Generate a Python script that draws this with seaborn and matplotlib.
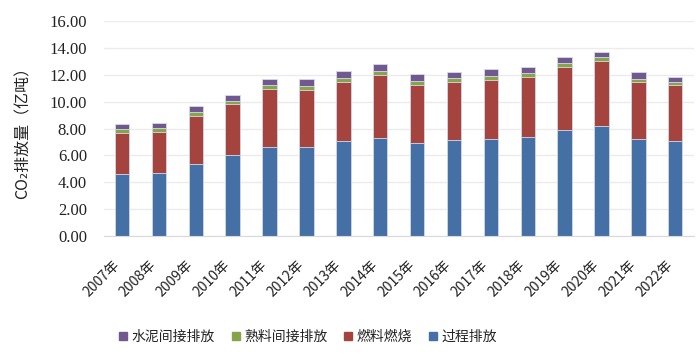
import pandas as pd
import matplotlib
matplotlib.use('Agg')
import matplotlib.pyplot as plt
import seaborn as sns
from matplotlib.lines import Line2D

sns.set_style('white')
plt.rcParams['font.family'] = ['Noto Sans CJK SC', 'DejaVu Sans']

# CO2 emissions of the cement industry, 100 million tonnes
years = ['2007年', '2008年', '2009年', '2010年', '2011年', '2012年', '2013年', '2014年',
         '2015年', '2016年', '2017年', '2018年', '2019年', '2020年', '2021年', '2022年']
process = [4.62, 4.69, 5.38, 6.00, 6.62, 6.62, 7.04, 7.31,
           6.90, 7.12, 7.22, 7.37, 7.89, 8.21, 7.24, 7.07]
fuel = [3.07, 3.07, 3.57, 3.85, 4.34, 4.27, 4.44, 4.65,
        4.34, 4.34, 4.41, 4.46, 4.68, 4.81, 4.22, 4.14]
clinker_indirect = [0.25, 0.28, 0.28, 0.22, 0.25, 0.29, 0.28, 0.32,
                    0.29, 0.27, 0.30, 0.30, 0.28, 0.28, 0.25, 0.25]
cement_indirect = [0.37, 0.34, 0.42, 0.40, 0.45, 0.48, 0.52, 0.52,
                   0.50, 0.50, 0.47, 0.44, 0.47, 0.41, 0.49, 0.39]

names = ['过程排放', '燃料燃烧', '熟料间接排放', '水泥间接排放']
colors = ['#4470a5', '#a5443f', '#86a44a', '#71588f']

df = pd.DataFrame({'year': years, names[0]: process, names[1]: fuel,
                   names[2]: clinker_indirect, names[3]: cement_indirect})
cum = df[names].cumsum(axis=1)
cum['year'] = df['year']

fig = plt.figure(figsize=(7, 3.56), dpi=100)
ax = fig.add_axes([0.148, 0.337, 0.843, 0.604])

# draw cumulative totals from the top layer down so each layer shows
for name, color in reversed(list(zip(names, colors))):
    sns.barplot(data=cum, x='year', y=name, color=color, width=0.39,
                edgecolor='#d6dcea', linewidth=0.6, ax=ax, saturation=1)

ax.set_ylim(0, 16)
ax.set_xlim(-0.5, 15.5)
ax.set_yticks(range(0, 17, 2))
ax.set_yticklabels([f'{v:.2f}' for v in range(0, 17, 2)])
for t in ax.get_yticklabels():
    t.set_fontfamily(['Liberation Serif', 'DejaVu Serif'])
    t.set_fontsize(12)
    t.set_color('#222222')
ax.yaxis.grid(True, color='#ebebeb', linewidth=1)
ax.set_axisbelow(True)
for s in ['left', 'top', 'right']:
    ax.spines[s].set_visible(False)
ax.spines['bottom'].set_color('#d9d9d9')
ax.tick_params(axis='both', length=0)
ax.tick_params(axis='y', pad=12)
ax.tick_params(axis='x', pad=16)
plt.setp(ax.get_xticklabels(), rotation=45, ha='right', va='top',
         fontsize=10, color='#222222')
ax.set_xlabel('')
ax.set_ylabel('CO₂排放量（亿吨）', fontsize=11.5, color='#222222', labelpad=13)

handles = [Line2D([], [], marker='s', linestyle='', markersize=6,
                  markerfacecolor=c, markeredgecolor=c)
           for c in reversed(colors)]
fig.legend(handles, list(reversed(names)), loc='center', ncol=4,
           bbox_to_anchor=(0.44, 0.053), frameon=False, fontsize=10,
           handlelength=0.6, handletextpad=0.3, columnspacing=1.2,
           labelcolor='#222222')

fig.savefig('out.png', dpi=100)
